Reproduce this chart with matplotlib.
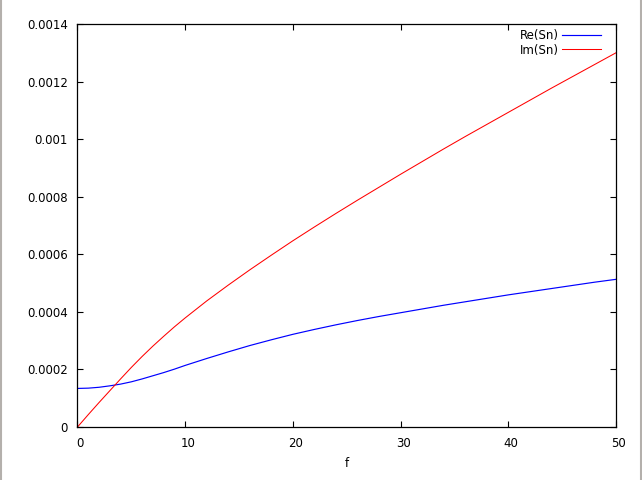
import matplotlib
matplotlib.use("Agg")
import matplotlib.pyplot as plt
import matplotlib.transforms as mtransforms
from matplotlib.lines import Line2D

# values (gnuplot style output)
f = [0, 1, 2, 3, 4, 5, 6, 7, 8, 9, 10, 12, 14, 16, 18, 20, 22, 24, 26, 28, 30,
     32, 34, 36, 38, 40, 42, 44, 46, 48, 50]
re_sn = [0.000134, 0.000135, 0.000138, 0.000143, 0.000149, 0.000157, 0.000167,
         0.000178, 0.000189, 0.000201, 0.000214, 0.000238,
         0.000261, 0.000283, 0.000303, 0.000322, 0.000339, 0.000355, 0.000370,
         0.000384, 0.000397, 0.000410, 0.000423, 0.000435, 0.000447, 0.000459,
         0.000470, 0.000481, 0.000492, 0.000503, 0.000513]
im_sn = [0.0, 0.000043, 0.000085, 0.000126, 0.000167, 0.000207, 0.000245,
         0.000281, 0.000315, 0.000348, 0.000379, 0.000438,
         0.000493, 0.000546, 0.000597, 0.000647, 0.000695, 0.000742, 0.000788,
         0.000833, 0.000878, 0.000922, 0.000966, 0.001009, 0.001051, 0.001093,
         0.001135, 0.001177, 0.001218, 0.001259, 0.001300]

x_ticks = [0, 10, 20, 30, 40, 50]
y_ticks = [0, 0.0002, 0.0004, 0.0006, 0.0008, 0.001, 0.0012, 0.0014]
y_tick_labels = ["0", "0.0002", "0.0004", "0.0006", "0.0008", "0.001", "0.0012", "0.0014"]

plt.rcParams["font.family"] = ["DejaVu Sans"]
fig = plt.figure(figsize=(6.42, 4.8), dpi=100)
ax = fig.add_axes([0.1207, 0.1104, 0.8388, 0.8396])

ax.plot(f, re_sn, color="#0000ff", linewidth=0.85, label="Re(Sn)")
ax.plot(f, im_sn, color="#ff0000", linewidth=0.75, label="Im(Sn)")

ax.set_xlim(0, 50)
ax.set_ylim(0, 0.0014)
ax.set_xticks(x_ticks)
ax.set_xticklabels([str(t) for t in x_ticks])
ax.set_yticks(y_ticks)
ax.set_yticklabels(y_tick_labels)
ax.tick_params(direction="in", length=4.5, width=0.8, labelsize=8.5,
               top=True, right=True, pad=7, colors="black")
ax.minorticks_off()
for spine in ax.spines.values():
    spine.set_linewidth(0.9)
    spine.set_color("black")

# gnuplot puts the x labels a little right of the tick
shift = mtransforms.ScaledTranslation(2.5 / 100, 0, fig.dpi_scale_trans)
for lbl in ax.get_xticklabels():
    lbl.set_transform(lbl.get_transform() + shift)

ax.set_xlabel("f", fontsize=8.5, labelpad=5)

ax.legend(loc="upper right", bbox_to_anchor=(0.972, 0.988), frameon=False,
          markerfirst=False, fontsize=8.5, handlelength=3.3, handletextpad=0.3,
          labelspacing=0.15, borderaxespad=0.0, borderpad=0.0)

# grey window edges left and right
fig.add_artist(Line2D([0.0015, 0.0015], [0, 1], transform=fig.transFigure,
                      color="#b4b0ac", linewidth=1.5))
fig.add_artist(Line2D([0.9985, 0.9985], [0, 1], transform=fig.transFigure,
                      color="#b4b0ac", linewidth=1.5))

fig.savefig("out.png", dpi=100)
